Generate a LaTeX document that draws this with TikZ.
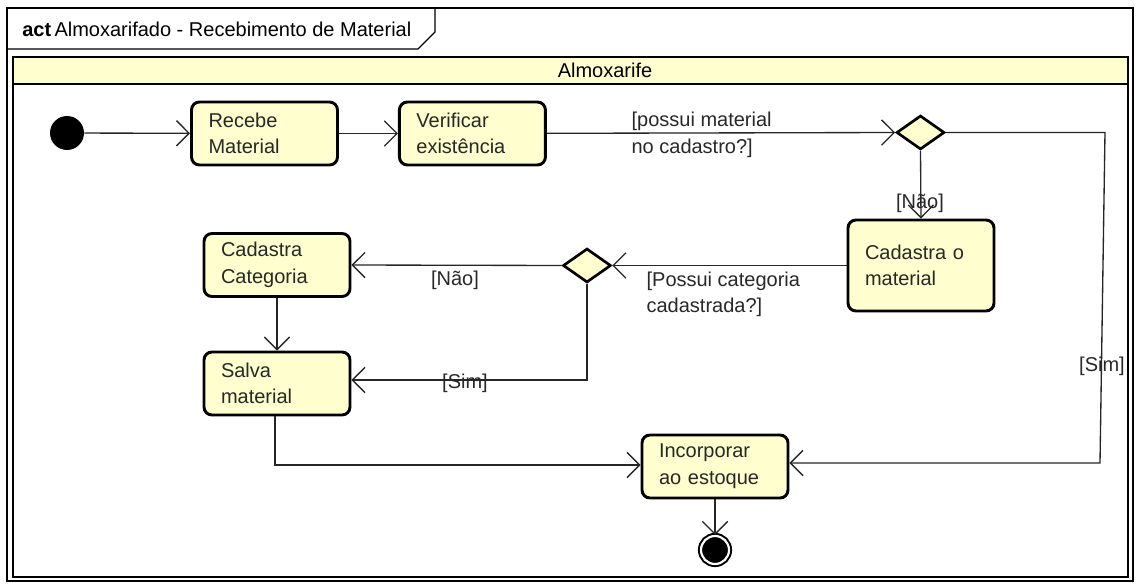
\documentclass[tikz,border=0pt]{standalone}
\usepackage{fontspec}
\setmainfont{Liberation Sans}
\usetikzlibrary{positioning, arrows.meta, shapes.geometric}
\definecolor{umlfill}{RGB}{254,254,206}
\definecolor{umltext}{RGB}{40,40,40}

\begin{document}
\begin{tikzpicture}[x=0.75pt, y=-0.75pt, font=\fontsize{15}{20}\selectfont, >={Straight Barb[length=9.5pt,width=19pt]},
	act/.style={rectangle, rounded corners=6pt, draw=black, line width=2.2pt, fill=umlfill, text=umltext, align=left, text width=84pt, inner xsep=12.75pt, minimum height=47.25pt},
	dec/.style={diamond, draw=black, line width=2pt, fill=umlfill, inner sep=0pt, minimum width=36pt, minimum height=25.5pt},
	flow/.style={->, line width=1pt, draw=black!85},
	guard/.style={text=umltext, align=left, inner sep=1pt}]
		\useasboundingbox (0,0) rectangle (1140,585);
		% frame and swimlane
		\draw[line width=1pt, fill=white] (7,8) rectangle (1133,581);
		\draw[line width=1pt] (7,49) -- (418,49) -- (435,32) -- (435,8);
		\node[anchor=base west, inner sep=0pt] (title) at (22,37) {\textbf{act}\,Almoxarifado - Recebimento de Material};
		\draw[line width=2pt, fill=umlfill] (13,57) rectangle (1128,84);
		\draw[line width=2pt] (13,84) rectangle (1128,577);
		\node (lane) at (605,70.5) {Almoxarife};
		% nodes
		\node[circle, fill=black, minimum size=25.5pt, inner sep=0pt] (ini) at (67,133) {};
		\node[act] (recebe) at (264.5,133.5) {Recebe\\Material};
		\node[act] (verif) [right=44.25pt of recebe] {Verificar\\existência};
		\node[dec] (d1) at (920.5,132.5) {};
		\node[act, minimum height=68.25pt] (cadmat) at (921,265.5) {Cadastra o\\material};
		\node[dec] (d2) at (587,265.5) {};
		\node[act] (cadcat) at (277,265) {Cadastra\\Categoria};
		\node[act] (salva) at (277,383.5) {Salva\\material};
		\node[act] (incorp) at (715,466.5) {Incorporar\\ao estoque};
		\node[circle, draw=black, line width=1.5pt, double=white, double distance=1.6pt, fill=black, minimum size=21pt, inner sep=0pt] (fim) at (715,550) {};
		\coordinate (c1) at (1105,132.5);
		\coordinate (c2) at (1100,463);
		\coordinate (c3) at (587,380);
		\coordinate (c4) at (275,465);
		% flows
		\draw[flow] (ini) -- (recebe);
		\draw[flow] (recebe) -- (verif);
		\draw[flow] (verif) -- (d1.west);
		\node[guard, anchor=west] (g1) at (630,135) {[possui material\\no cadastro?]};
		\draw[flow] (d1.south) -- (cadmat.north);
		\node[guard] (g2) at (920,203) {[Não]};
		\draw[flow] (d1.east) -- (c1) -- (c2) -- (incorp.east |- c2);
		\node[guard] (g3) at (1102,366) {[Sim]};
		\draw[flow] (cadmat.west) -- (d2.east);
		\node[guard, anchor=north west] (g4) at (645,270) {[Possui categoria\\cadastrada?]};
		\draw[flow] (d2.west) -- (cadcat.east);
		\node[guard] (g5) at (455,280) {[Não]};
		\draw[flow] (d2.south) -- (c3) -- (salva.east |- c3);
		\node[guard] (g6) at (465,383) {[Sim]};
		\draw[flow] (cadcat) -- (salva);
		\draw[flow] (salva.south -| c4) -- (c4) -- (incorp.west |- c4);
		\draw[flow] (incorp) -- (fim);
	\end{tikzpicture}
\end{document}
